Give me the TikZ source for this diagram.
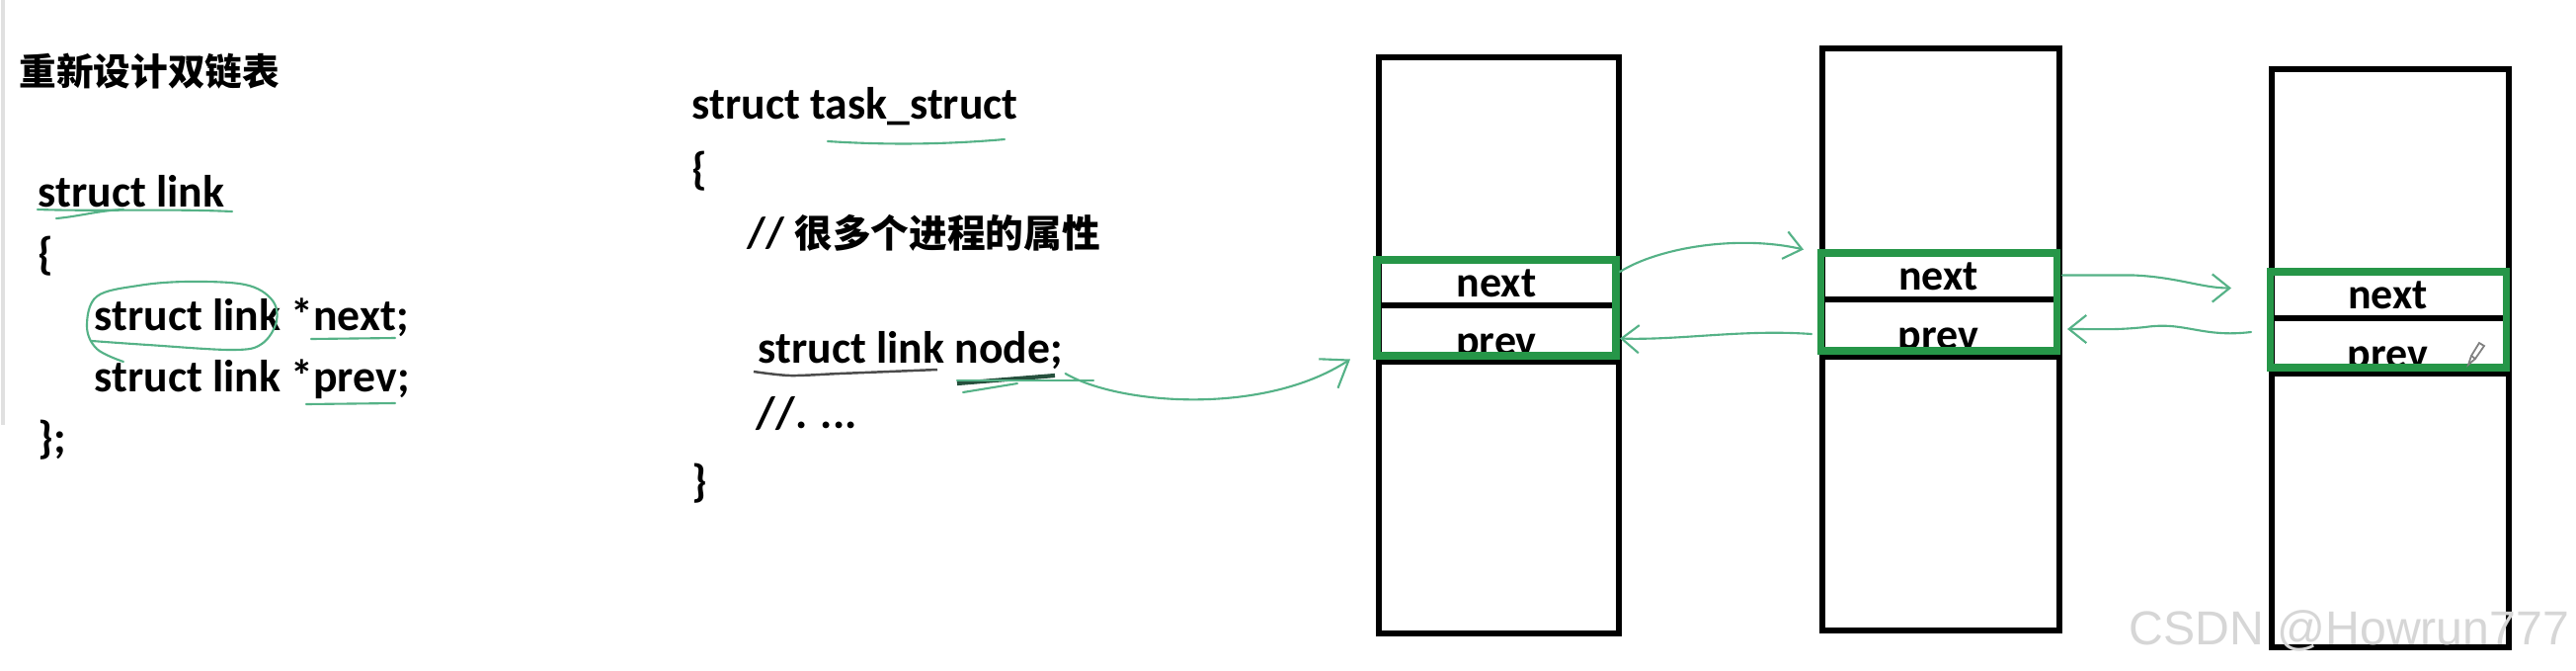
\documentclass[tikz,border=0pt]{standalone}
\usepackage{fontspec}
\setmainfont{Carlito}
\newfontfamily\cjk{Noto Sans CJK SC}
\newfontfamily\wmfont{Liberation Sans}
\usetikzlibrary{positioning,fit,calc,arrows.meta}

\definecolor{boxgreen}{RGB}{38,150,72}
\definecolor{inkgreen}{RGB}{85,178,135}
\definecolor{wmgray}{RGB}{214,214,214}

\tikzset{
  code/.style={anchor=base west, inner sep=0pt, font=\fontsize{13}{15}\selectfont\bfseries},
  cellfont/.style={anchor=base, inner sep=0pt, font=\fontsize{12.5}{15}\selectfont\bfseries},
  cell/.style={draw=black, line width=1.7pt, inner sep=0pt},
  slotcell/.style={inner sep=0pt, outer sep=0pt},
  hl/.style={draw=boxgreen, line width=2pt},
  scribble/.style={draw=inkgreen, line width=0.6pt, line cap=round}
}

\begin{document}
\begin{tikzpicture}[x=0.01cm, y=-0.01cm, >={Straight Barb[length=5pt,width=8pt]}]
  \useasboundingbox[fill=white] (0,0) rectangle (2608,678);
  \draw[black!12, line width=1pt] (3,0) -- (3,430);

  \node[anchor=west, inner sep=0pt, font=\cjk\fontsize{10.7}{12}\selectfont\bfseries] (title) at (19,72) {重新设计双链表};
  \node[code] (sl) at (38,209) {struct link};
  \node[code] (lb1) at (38,272) {\{};
  \node[code] (nxt) at (95,334) {struct link *next;};
  \node[code] (prv) at (95,396) {struct link *prev;};
  \node[code] (rb1) at (38,458) {\};};

  \node[code] (ts) at (700,120) {struct task\_struct};
  \node[code] (lb2) at (700,186) {\{};
  \node[code, font=\fontsize{12.5}{15}\selectfont\bfseries] (cmt) at (756,250) {// {\cjk\fontsize{11}{15}\selectfont 很多个进程的属性}};
  \node[code] (lnode) at (767,367) {struct link node;};
  \node[code] (dots) at (765,433) {//. ...};
  \node[code] (rb2) at (700,502) {\}};

  \foreach \i/\xl/\xr/\yt/\yb/\gt/\gd/\gb in {1/1396/1639/58/641/263/309/360,
      2/1845/2085/49/638/256/303/355, 3/2300/2540/70/655/275/322/372} {
    \node[cell, fit={(\xl,\yt) (\xr,\yb)}] (box\i) {};
    \node[slotcell, fit={(\xl-2,\gt) (\xr-3,\gd)}] (nx\i) {};
    \node[slotcell, fit={(\xl-2,\gd) (\xr-3,\gb)}] (pv\i) {};
    \draw[line width=1.7pt] (nx\i.south west) -- (nx\i.south east);
    \draw[line width=1.7pt] (\xl,\gb+6) -- (\xr,\gb+6);
    \begin{scope}
      \clip (pv\i.north west) rectangle (pv\i.south east);
      \node[cellfont] (tp\i) at ($(pv\i.north)+(0,50)$) {prev};
    \end{scope}
    \node[cellfont] (tn\i) at ($(nx\i.north)+(0,37)$) {next};
    \draw[hl] (nx\i.north west) rectangle (pv\i.south east);
  }

  % pen marks on the code
  \draw[scribble] (38,212) .. controls (100,214) and (170,211) .. (235,214);
  \draw[scribble] (57,221) .. controls (80,219) and (100,213) .. (125,212);
  \draw[scribble] plot[smooth, tension=0.6] coordinates {(125,366) (98,353) (88,330) (98,300) (140,289) (190,285)
    (248,288) (275,303) (280,325) (265,348) (235,354) (150,349) (93,345)};
  \draw[scribble] (315,343) -- (400,342);
  \draw[scribble] (310,409) -- (400,408);
  \draw[scribble] (838,143) .. controls (900,147) and (960,146) .. (1017,141);
  \draw[black!70, line width=0.7pt] plot[smooth] coordinates {(763,376) (800,380) (850,378) (900,376) (949,374)};
  \draw[black!55!inkgreen, line width=1.2pt] (969,388) -- (1068,380);
  \draw[scribble] (969,385) -- (1107,385);
  \draw[scribble] (975,397) -- (1030,388);

  \draw[scribble, -{Straight Barb[length=7pt,width=10pt]}] ($(lnode.base east)+(2,11)$)
    .. controls +(55,32) and +(-87,57) .. ($(pv1.west)+(-27,29)$);
  \draw[scribble, ->] ($(nx1.east)+(4,-11)$) .. controls +(40,-25) and +(-65,-15) .. ($(nx2.west)+(-17,-27)$);
  \draw[scribble, ->] ($(pv2.west)+(-9,9)$) .. controls +(-70,-5) and +(60,2) .. ($(pv1.east)+(4,8)$);
  \draw[scribble, ->] ($(nx2.east)+(6,-1)$) -- +(72,0) .. controls +(45,2) and +(-30,0) .. ($(nx3.west)+(-39,-7)$);
  \draw[scribble, ->] ($(pv3.west)+(-19,-11)$) .. controls +(-50,6) and +(40,-6) .. ($(pv2.east)+(90,2)$)
    .. controls +(-30,3) and +(40,0) .. ($(pv2.east)+(11,4)$);

  \draw[black!50, line width=0.5pt, fill=white] (2499,369) -- (2502,360) -- (2510,347) -- (2515,350) -- (2506,363) -- cycle;
  \draw[black!50, line width=0.5pt] (2502,360) -- (2506,363);

  \node[anchor=base west, inner sep=0pt, text=wmgray, font=\wmfont\fontsize{13.7}{16}\selectfont] (wm) at (2155,652) {CSDN @Howrun777};
\end{tikzpicture}
\end{document}
